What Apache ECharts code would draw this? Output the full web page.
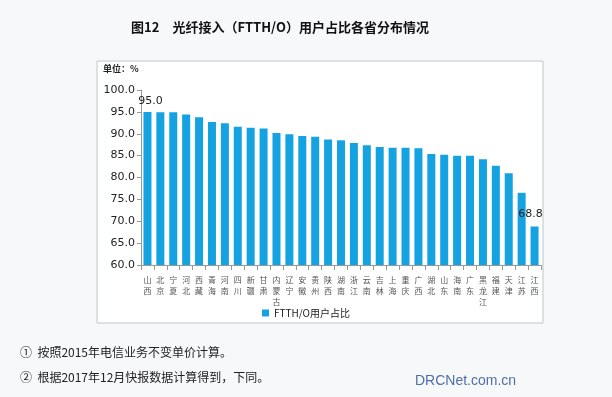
<!DOCTYPE html>
<html>
<head>
<meta charset="utf-8">
<script src="https://cdn.jsdelivr.net/npm/echarts@6/dist/echarts.min.js"></script>
<style>
  html, body { margin: 0; padding: 0; background: #f7f8f9; }
  #chart { width: 612px; height: 397px; }
</style>
</head>
<body>
<div id="chart"></div>
<script>
var provinces = ['山西', '北京', '宁夏', '河北', '西藏', '青海', '河南', '四川', '新疆', '甘肃',
  '内蒙古', '辽宁', '安徽', '贵州', '陕西', '湖南', '浙江', '云南', '吉林', '上海',
  '重庆', '广西', '湖北', '山东', '海南', '广东', '黑龙江', '福建', '天津', '江苏', '江西'];
var ratios = [95.0, 94.9, 94.9, 94.4, 93.8, 92.7, 92.4, 91.6, 91.4, 91.2,
  90.2, 89.9, 89.5, 89.3, 88.7, 88.5, 87.9, 87.4, 87.0, 86.8,
  86.8, 86.7, 85.4, 85.2, 85.0, 85.0, 84.2, 82.7, 81.0, 76.5, 68.8];
var yTicks = { min: 60, max: 100, interval: 5 };
var seriesName = 'FTTH/O用户占比';
var notes = ['①  按照2015年电信业务不变单价计算。', '②  根据2017年12月快报数据计算得到，下同。'];

var chart = echarts.init(document.getElementById('chart'));

var barData = ratios.map(function (v, i) {
  if (i === 0) {
    return { value: v, label: { show: true, position: 'top', offset: [3, 0] } };
  }
  if (i === ratios.length - 1) {
    return { value: v, label: { show: true, position: 'top', offset: [-4, -2] } };
  }
  return v;
});

var option = {
  backgroundColor: '#f7f8f9',
  animation: false,
  title: {
    text: '图12　光纤接入（FTTH/O）用户占比各省分布情况',
    left: 275,
    top: 16,
    textAlign: 'center',
    textStyle: {
      fontFamily: 'Noto Sans CJK SC',
      fontSize: 13,
      fontWeight: 'bold',
      color: '#111'
    }
  },
  graphic: [
    {
      type: 'rect',
      z: -1,
      shape: { x: 97, y: 61, width: 446, height: 262 },
      style: { fill: '#ffffff', stroke: '#bcc8cc', lineWidth: 1 }
    },
    {
      type: 'text',
      left: 103,
      top: 64,
      style: { text: '单位：%', font: 'bold 9px "Noto Sans CJK SC"', fill: '#222' }
    },
    {
      type: 'text',
      left: 20,
      top: 346,
      style: { text: notes[0], font: '12px "Noto Sans CJK SC"', fill: '#222' }
    },
    {
      type: 'text',
      left: 20,
      top: 371,
      style: { text: notes[1], font: '12px "Noto Sans CJK SC"', fill: '#222' }
    },
    {
      type: 'text',
      left: 415,
      top: 374,
      style: { text: 'DRCNet.com.cn', font: '14px "Liberation Sans"', fill: '#4f6fa8' }
    }
  ],
  legend: {
    data: [seriesName],
    left: 'center',
    top: 303,
    itemWidth: 7,
    itemHeight: 7,
    itemGap: 3,
    icon: 'rect',
    textStyle: { fontFamily: 'Noto Sans CJK SC', fontSize: 10, color: '#222' }
  },
  grid: {
    left: 141,
    right: 71,
    top: 90,
    bottom: 132
  },
  xAxis: {
    type: 'category',
    data: provinces,
    axisLine: { lineStyle: { color: '#999' } },
    axisTick: { show: true, alignWithLabel: false, lineStyle: { color: '#999' } },
    axisLabel: {
      interval: 0,
      fontSize: 8,
      lineHeight: 11,
      color: '#555',
      margin: 9,
      fontFamily: 'Noto Sans CJK SC',
      formatter: function (v) {
        return v.split('').join('\n');
      }
    }
  },
  yAxis: {
    type: 'value',
    min: yTicks.min,
    max: yTicks.max,
    interval: yTicks.interval,
    axisLine: { show: true, lineStyle: { color: '#999' } },
    axisTick: { show: true, length: 4, lineStyle: { color: '#999' } },
    splitLine: { show: false },
    axisLabel: {
      fontSize: 11,
      color: '#222',
      margin: 6,
      fontFamily: 'DejaVu Sans',
      formatter: function (v) {
        return v.toFixed(1);
      }
    }
  },
  series: [
    {
      name: seriesName,
      type: 'bar',
      data: barData,
      barWidth: 8,
      itemStyle: { color: '#14a3e0' },
      label: {
        show: false,
        fontSize: 11,
        color: '#222',
        fontFamily: 'DejaVu Sans',
        formatter: function (p) {
          return p.value.toFixed(1);
        }
      }
    }
  ]
};

option && chart.setOption(option);
</script>
</body>
</html>
